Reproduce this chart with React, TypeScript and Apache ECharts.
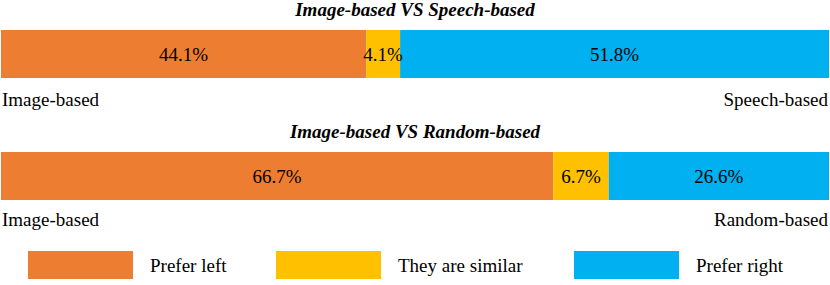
import React, { useEffect, useRef } from "react";
import * as echarts from "echarts";

const comparisons = ["Image-based VS Speech-based", "Image-based VS Random-based"];
const leftNames = ["Image-based", "Image-based"];
const rightNames = ["Speech-based", "Random-based"];
const seriesNames = ["Prefer left", "They are similar", "Prefer right"];
const preferLeft = [44.1, 66.7];
const similar = [4.1, 6.7];
const preferRight = [51.8, 26.6];
const colors = ["#ED7D31", "#FFC000", "#00B0F0"];

const FONT = "Liberation Serif";

export default function App() {
  const ref = useRef<HTMLDivElement>(null);
  useEffect(() => {
    if (!ref.current) return;
    const chart = echarts.init(ref.current, undefined, { renderer: "svg" });
    const values = [preferLeft, similar, preferRight];
    const barTops = [30, 152];
    const barH = 48;
    const grids = barTops.map((t) => ({ left: 1, width: 828, top: t, height: barH }));
    const xAxes = barTops.map((_, i) => ({
      type: "value" as const, gridIndex: i, min: 0, max: 100, show: false,
    }));
    const yAxes = barTops.map((_, i) => ({
      type: "category" as const, gridIndex: i, data: [comparisons[i]], show: false,
    }));
    const series: any[] = [];
    barTops.forEach((_, gi) => {
      seriesNames.forEach((name, si) => {
        series.push({
          type: "bar",
          name,
          stack: "s" + gi,
          xAxisIndex: gi,
          yAxisIndex: gi,
          barWidth: "100%",
          data: [values[si][gi]],
          itemStyle: { color: colors[si] },
          label: {
            show: true,
            position: "inside",
            formatter: (p: any) => p.value.toFixed(1) + "%",
            color: "#000",
            fontFamily: FONT,
            fontSize: 19,
          },
        });
      });
    });
    const legendLefts = [28, 276, 574];
    const legends = seriesNames.map((n, i) => ({
      data: [n],
      left: legendLefts[i],
      top: 251,
      padding: 0,
      icon: "rect",
      itemWidth: 105,
      itemHeight: 28,
      textStyle: { fontFamily: FONT, fontSize: 19, color: "#000", padding: [0, 0, 0, 12] },
      selectedMode: false,
    }));
    const graphics: any[] = [];
    barTops.forEach((t, i) => {
      graphics.push({
        type: "text",
        x: 415,
        y: t - 21,
        style: {
          text: comparisons[i], fontFamily: FONT, fontSize: 19, fontWeight: "bold",
          fontStyle: "italic", fill: "#000", align: "center", verticalAlign: "middle",
        },
      });
      graphics.push({
        type: "text",
        x: 2,
        y: t + barH + 21 - i * 2,
        style: {
          text: leftNames[i], fontFamily: FONT, fontSize: 19, fill: "#000",
          align: "left", verticalAlign: "middle",
        },
      });
      graphics.push({
        type: "text",
        x: 828,
        y: t + barH + 21 - i * 2,
        style: {
          text: rightNames[i], fontFamily: FONT, fontSize: 19, fill: "#000",
          align: "right", verticalAlign: "middle",
        },
      });
    });
    chart.setOption({
      animation: false,
      backgroundColor: "#fff",
      grid: grids,
      xAxis: xAxes,
      yAxis: yAxes,
      legend: legends,
      series,
      graphic: graphics,
    });
    return () => chart.dispose();
  }, []);
  return <div ref={ref} style={{ width: 830, height: 285, position: "absolute", left: 0, top: 0 }} />;
}
